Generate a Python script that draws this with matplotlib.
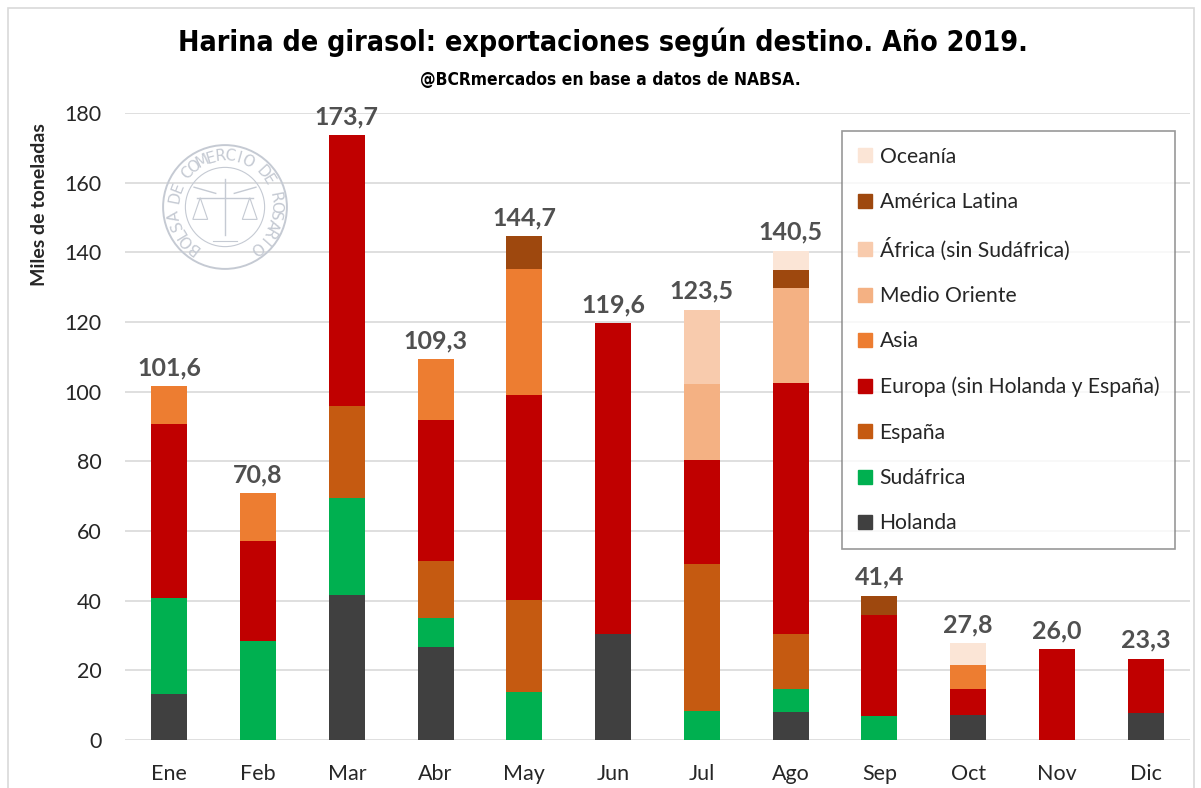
import numpy as np
import matplotlib
matplotlib.use("Agg")
import matplotlib.pyplot as plt
from matplotlib.patches import Circle, Rectangle, Polygon
from matplotlib.lines import Line2D

# exportaciones de harina de girasol por destino (miles de toneladas), 2019
meses = ["Ene", "Feb", "Mar", "Abr", "May", "Jun", "Jul", "Ago", "Sep", "Oct", "Nov", "Dic"]
holanda = [13.1, 0, 41.7, 26.8, 0, 30.4, 0, 7.9, 0, 7.2, 0, 7.8]
sudafrica = [27.7, 28.4, 27.8, 8.1, 13.9, 0, 8.3, 6.7, 6.9, 0, 0, 0]
espana = [0, 0, 26.4, 16.4, 26.3, 0, 42.1, 15.7, 0, 0, 0, 0]
europa = [49.8, 28.6, 77.8, 40.7, 58.7, 89.2, 30.0, 72.3, 29.0, 7.4, 26.0, 15.5]
asia = [11.0, 13.8, 0, 17.3, 36.4, 0, 0, 0, 0, 7.0, 0, 0]
medio_oriente = [0, 0, 0, 0, 0, 0, 21.7, 27.1, 0, 0, 0, 0]
africa = [0, 0, 0, 0, 0, 0, 21.4, 0, 0, 0, 0, 0]
america_latina = [0, 0, 0, 0, 9.4, 0, 0, 5.2, 5.5, 0, 0, 0]
oceania = [0, 0, 0, 0, 0, 0, 0, 5.6, 0, 6.2, 0, 0]
totales = [101.6, 70.8, 173.7, 109.3, 144.7, 119.6, 123.5, 140.5, 41.4, 27.8, 26.0, 23.3]

series = [
    ("Holanda", holanda, "#404040"),
    ("Sudáfrica", sudafrica, "#00b050"),
    ("España", espana, "#c55a11"),
    ("Europa (sin Holanda y España)", europa, "#c00000"),
    ("Asia", asia, "#ed7d31"),
    ("Medio Oriente", medio_oriente, "#f4b183"),
    ("África (sin Sudáfrica)", africa, "#f8cbad"),
    ("América Latina", america_latina, "#9e480e"),
    ("Oceanía", oceania, "#fbe5d6"),
]

W, H = 1201, 788
plt.rcParams['font.family'] = ['Lato', 'DejaVu Sans']
fig = plt.figure(figsize=(W / 100, H / 100), dpi=100)

# marco gris claro
fig.patches.append(Rectangle((8 / W, -0.05), (1194 - 8) / W, 1.05 - 8 / H, transform=fig.transFigure,
                             fill=False, edgecolor="#d9d9d9", lw=1.2))

ax = fig.add_axes([125 / W, 1 - 740 / H, 1065 / W, 627 / H])
x = np.arange(len(meses))
bottom = np.zeros(len(meses))
for nombre, vals, color in series:
    vals = np.array(vals, dtype=float)
    ax.bar(x, vals, bottom=bottom, width=0.405, color=color, label=nombre, zorder=3)
    bottom += vals

for xi, tot in zip(x, totales):
    ax.annotate(f"{tot:.1f}".replace(".", ","), (xi, bottom[xi]), xytext=(0, 5),
                textcoords="offset points", ha="center", va="bottom",
                fontsize=18, fontweight="bold", color="#505050")

ax.set_xlim(-0.5, 11.5)
ax.set_ylim(0, 180)
ax.set_yticks(np.arange(0, 181, 20))
ax.set_xticks(x)
ax.set_xticklabels(meses)
ax.tick_params(axis="both", length=0, labelsize=15.5, colors="#262626")
ax.tick_params(axis="y", pad=17)
ax.tick_params(axis="x", pad=17)
ax.grid(axis="y", color="#d9d9d9", lw=1.2, zorder=0)
for s in ax.spines.values():
    s.set_visible(False)

handles = [Line2D([], [], marker="s", ls="", markersize=10, color=c) for _, _, c in series][::-1]
labels = [n for n, _, _ in series][::-1]
leg = ax.legend(handles, labels, loc="upper right", bbox_to_anchor=(1175 / W, 1 - 131 / H),
                bbox_transform=fig.transFigure, frameon=True, fancybox=False,
                fontsize=15.2, labelspacing=1.2, handletextpad=0.35, borderpad=0.75,
                borderaxespad=0, handlelength=0.7)
leg.get_frame().set_edgecolor("#7f7f7f")
leg.get_frame().set_linewidth(1.2)
for t in leg.get_texts():
    t.set_color("#262626")

fig.text(40 / W, 1 - 205 / H, "Miles de toneladas", rotation=90, ha="center", va="center",
         fontsize=14, fontweight="bold", color="#262626")

# logo (marca de agua)
lax = fig.add_axes([160 / W, 1 - 272 / H, 130 / W, 130 / H])
lax.set_xlim(-1.05, 1.05)
lax.set_ylim(-1.05, 1.05)
lax.set_aspect("equal")
lax.axis("off")
gris = "#c5cad3"
lax.add_patch(Circle((0, 0), 1.0, fill=False, edgecolor=gris, lw=1.4))
lax.add_patch(Circle((0, 0), 0.64, fill=False, edgecolor=gris, lw=0.8))
texto = "BOLSA DE COMERCIO DE ROSARIO"
angs = np.linspace(232, -52, len(texto))
for ch, a in zip(texto, angs):
    r = 0.82
    lax.text(r * np.cos(np.radians(a)), r * np.sin(np.radians(a)), ch, rotation=a - 90,
             ha="center", va="center", fontsize=11, color=gris, family="DejaVu Sans")
lax.plot([0, 0], [-0.45, 0.45], color=gris, lw=1)
lax.plot([-0.45, 0.45], [0.15, 0.15], color=gris, lw=1)
lax.plot([-0.5, -0.15], [0.32, 0.22], color=gris, lw=1)
lax.plot([0.5, 0.15], [0.32, 0.22], color=gris, lw=1)
for sx in (-0.4, 0.4):
    lax.add_patch(Polygon([[sx, 0.15], [sx - 0.12, -0.2], [sx + 0.12, -0.2]], closed=True,
                          fill=False, edgecolor=gris, lw=0.8))
lax.plot([-0.2, 0.2], [-0.55, -0.55], color=gris, lw=0.8)

# titulo y subtitulo ajustados al ancho del original
titulo = fig.text(0.5 * (178 + 1027) / W, 1 - 42 / H,
                  "Harina de girasol: exportaciones según destino. Año 2019.",
                  ha="center", va="center", fontsize=24, fontweight="bold",
                  family=["DejaVu Sans"], fontstretch="condensed", color="black")
sub = fig.text(0.5 * (420 + 800) / W, 1 - 80 / H, "@BCRmercados en base a datos de NABSA.",
               ha="center", va="center", fontsize=12, fontweight="bold",
               family=["DejaVu Sans"], fontstretch="condensed", color="black")
r = fig.canvas.get_renderer()
for t, ancho in ((titulo, 849), (sub, 380)):
    w = t.get_window_extent(r).width
    t.set_fontsize(t.get_fontsize() * ancho / w)

fig.savefig("out.png", dpi=100, facecolor="white")
